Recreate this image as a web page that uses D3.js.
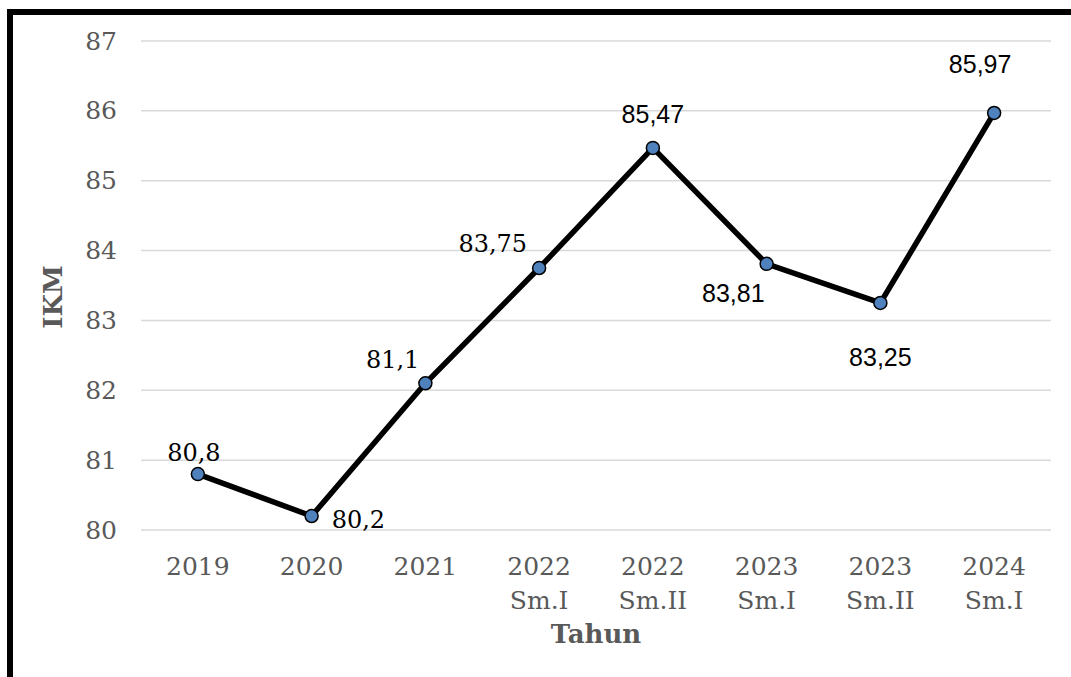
<!DOCTYPE html>
<html>
<head>
<meta charset="utf-8">
<script src="https://cdn.jsdelivr.net/npm/d3@7"></script>
<style>
  body { margin: 0; background: #fff; }
  svg { display: block; }
</style>
</head>
<body>
<svg id="chart" width="1071" height="677"></svg>
<script>
// data
const years = ["2019", "2020", "2021", "2022", "2022", "2023", "2023", "2024"];
const semesters = ["", "", "", "Sm.I", "Sm.II", "Sm.I", "Sm.II", "Sm.I"];
const ikm = [80.8, 80.2, 82.1, 83.75, 85.47, 83.81, 83.25, 85.97];
// labels as printed (2021 label says 81,1 though the point sits at 82,1)
const valueLabels = ["80,8", "80,2", "81,1", "83,75", "85,47", "83,81", "83,25", "85,97"];
const yTicks = [80, 81, 82, 83, 84, 85, 86, 87];

const svg = d3.select("#chart");
const W = 1071, H = 677;
const plotLeft = 141, plotRight = 1051, plotTop = 41, plotBottom = 530;

const cats = d3.range(ikm.length);
const x = d3.scaleBand().domain(cats).range([plotLeft, plotRight]);
const y = d3.scaleLinear().domain([80, 87]).range([plotBottom, plotTop]);
const cx = i => x(i) + x.bandwidth() / 2;

const serif = "'DejaVu Serif', serif";
const sans = "'Liberation Sans', Arial, sans-serif";

// frame (top and left edges only are visible)
svg.append("line").attr("x1", 7).attr("x2", W).attr("y1", 12).attr("y2", 12)
  .attr("stroke", "#000").attr("stroke-width", 6);
svg.append("line").attr("x1", 10).attr("x2", 10).attr("y1", 9).attr("y2", H)
  .attr("stroke", "#000").attr("stroke-width", 6);

// gridlines
svg.append("g").selectAll("line").data(yTicks).join("line")
  .attr("x1", plotLeft).attr("x2", plotRight)
  .attr("y1", d => y(d)).attr("y2", d => y(d))
  .attr("stroke", "#d9d9d9").attr("stroke-width", 1.5);

// y axis labels
const yAxis = svg.append("g")
  .attr("transform", `translate(${plotLeft - 22},0)`)
  .call(d3.axisLeft(y).tickValues(yTicks).tickFormat(d3.format("d")).tickSize(0).tickPadding(2));
yAxis.select(".domain").remove();
yAxis.selectAll("text")
  .attr("font-family", serif).attr("font-size", 25).attr("fill", "#595959");

// x axis labels (two lines)
const xAxis = svg.append("g").attr("class", "x-axis");
cats.forEach(i => {
  const t = xAxis.append("text")
    .attr("x", cx(i)).attr("y", 575)
    .attr("text-anchor", "middle")
    .attr("font-family", serif).attr("font-size", 25).attr("fill", "#595959");
  t.append("tspan").attr("x", cx(i)).text(years[i]);
  if (semesters[i]) t.append("tspan").attr("x", cx(i)).attr("dy", 34).text(semesters[i]);
});

// axis titles
svg.append("text")
  .attr("x", (plotLeft + plotRight) / 2).attr("y", 643)
  .attr("text-anchor", "middle")
  .attr("font-family", serif).attr("font-weight", "bold").attr("font-size", 26)
  .attr("fill", "#595959").text("Tahun");
svg.append("text")
  .attr("transform", "translate(62,297) rotate(-90)")
  .attr("text-anchor", "middle")
  .attr("font-family", serif).attr("font-weight", "bold").attr("font-size", 26)
  .attr("fill", "#595959").text("IKM");

// line
const line = d3.line().x((d, i) => cx(i)).y(d => y(d));
svg.append("path").datum(ikm)
  .attr("d", line)
  .attr("fill", "none").attr("stroke", "#000").attr("stroke-width", 5.5)
  .attr("stroke-linejoin", "miter");

// markers
svg.append("g").selectAll("circle").data(ikm).join("circle")
  .attr("cx", (d, i) => cx(i)).attr("cy", d => y(d)).attr("r", 6.5)
  .attr("fill", "#4f81bd").attr("stroke", "#000").attr("stroke-width", 1.5);

// data labels: offsets relative to each point, font as in the picture
const labelPos = [
  { dx: -4, dy: -13, anchor: "middle", font: serif },
  { dx: 20, dy: 12, anchor: "start", font: serif },
  { dx: -6, dy: -15, anchor: "end", font: serif },
  { dx: -12, dy: -16, anchor: "end", font: serif },
  { dx: 0, dy: -25, anchor: "middle", font: sans },
  { dx: -2, dy: 38, anchor: "end", font: sans },
  { dx: 0, dy: 63, anchor: "middle", font: sans },
  { dx: -14, dy: -40, anchor: "middle", font: sans }
];
svg.append("g").selectAll("text").data(ikm).join("text")
  .attr("x", (d, i) => cx(i) + labelPos[i].dx)
  .attr("y", (d, i) => y(d) + labelPos[i].dy)
  .attr("text-anchor", (d, i) => labelPos[i].anchor)
  .style("font-family", (d, i) => labelPos[i].font)
  .attr("font-size", (d, i) => labelPos[i].font === sans ? 25 : 24)
  .attr("fill", "#000")
  .text((d, i) => valueLabels[i]);
</script>
</body>
</html>
